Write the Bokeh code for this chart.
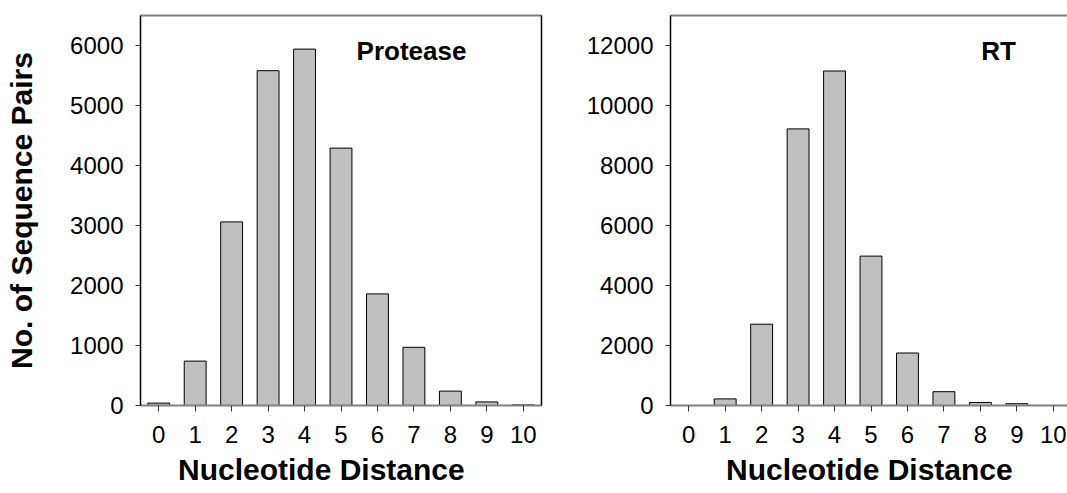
from bokeh.plotting import figure
from bokeh.layouts import row
from bokeh.models import LinearAxis, FixedTicker, Range1d, Label, Title
from bokeh.embed import file_html
from bokeh.resources import INLINE

# ---- data ----
distance = [0, 1, 2, 3, 4, 5, 6, 7, 8, 9, 10]
distance_labels = ["0", "1", "2", "3", "4", "5", "6", "7", "8", "9", "10"]
protease_pairs = [40, 740, 3060, 5580, 5940, 4290, 1860, 970, 240, 60, 10]
rt_pairs = [0, 220, 2710, 9220, 11150, 4980, 1750, 460, 100, 60, 0]
protease_yticks = [0, 1000, 2000, 3000, 4000, 5000, 6000]
rt_yticks = [0, 2000, 4000, 6000, 8000, 10000, 12000]
panel_titles = ["Protease", "RT"]
x_title = "Nucleotide Distance"
y_title = "No. of Sequence Pairs"

FONT = "Liberation Sans"
H = 493
FRAME_TOP = 15
FRAME_H = 390
FRAME_BOTTOM = FRAME_TOP + FRAME_H
PX_PER_UNIT = 401 / 11.0


def blank_axis(line_color, line_width):
    return LinearAxis(ticker=FixedTicker(ticks=[]), axis_line_color=line_color,
                      axis_line_width=line_width, major_tick_out=0, major_tick_in=0,
                      minor_tick_out=0, minor_tick_in=0,
                      major_label_standoff=0, major_label_text_font_size="0px")


def make_panel(vals, ymax, yticks, width, border_left, border_right,
               frame_left, frame_w, right_border_line, xtitle_offset, title_standoff):
    xs = -0.5
    xe = xs + frame_w / PX_PER_UNIT
    p = figure(width=width, height=H, output_backend="svg", toolbar_location=None,
               x_range=Range1d(xs, xe), y_range=Range1d(0, ymax),
               min_border_left=border_left, min_border_right=border_right,
               min_border_top=FRAME_TOP, min_border_bottom=H - FRAME_TOP - FRAME_H,
               background_fill_color="white", border_fill_color="white")
    p.outline_line_color = None
    p.xgrid.visible = False
    p.ygrid.visible = False

    p.vbar(x=distance, top=vals, width=0.6, bottom=0,
           fill_color="#c0c0c0", line_color="black", line_width=1)

    xa = p.xaxis[0]
    xa.ticker = FixedTicker(ticks=distance)
    xa.major_label_overrides = {d: s for d, s in zip(distance, distance_labels)}
    xa.axis_line_color = "#808080"
    xa.axis_line_width = 2
    xa.major_tick_in = 0
    xa.major_tick_out = 6
    xa.major_tick_line_color = "#333333"
    xa.minor_tick_out = 0
    xa.minor_tick_in = 0
    xa.major_label_standoff = 14
    xa.major_label_text_font = FONT
    xa.major_label_text_font_size = "24px"
    xa.major_label_text_color = "black"

    ya = p.yaxis[0]
    ya.ticker = FixedTicker(ticks=yticks)
    ya.axis_line_color = "black"
    ya.axis_line_width = 1.5
    ya.major_tick_in = 0
    ya.major_tick_out = 5
    ya.major_tick_line_color = "#333333"
    ya.minor_tick_out = 0
    ya.minor_tick_in = 0
    ya.major_label_standoff = 12
    ya.major_label_text_font = FONT
    ya.major_label_text_font_size = "24px"
    ya.major_label_text_color = "black"

    p.add_layout(blank_axis("#808080", 2), "above")
    if right_border_line:
        p.add_layout(blank_axis("black", 1.5), "right")

    p.add_layout(Title(text=x_title, align="left", offset=xtitle_offset,
                       standoff=title_standoff,
                       text_font=FONT, text_font_style="bold", text_font_size="30px",
                       text_color="black"), "below")

    def dx(px):
        return xs + (px - frame_left) / frame_w * (xe - xs)

    def dy(py):
        return ymax * (FRAME_BOTTOM - py) / FRAME_H

    return p, dx, dy


# left panel: page x 0..548, frame 140..541
p1, dx1, dy1 = make_panel(protease_pairs, 6500, protease_yticks, 548, 140, 7, 140, 401,
                          True, 37.5, 10)
# right panel: page x 548..1067, frame 670..1067
p2, dx2, dy2 = make_panel(rt_pairs, 13000, rt_yticks, 519, 122, 0, 670, 397,
                          False, 55.5, 10)

p1.yaxis[0].axis_label = y_title
p1.yaxis[0].axis_label_text_font = FONT
p1.yaxis[0].axis_label_text_font_style = "bold"
p1.yaxis[0].axis_label_text_font_size = "30px"
p1.yaxis[0].axis_label_text_color = "black"
p1.yaxis[0].axis_label_standoff = 29

p1.add_layout(Label(x=dx1(411), y=dy1(50), text=panel_titles[0], text_font=FONT,
                    text_font_style="bold", text_font_size="26px",
                    text_align="center", text_baseline="alphabetic", text_color="black"))
p2.add_layout(Label(x=dx2(998), y=dy2(50), text=panel_titles[1], text_font=FONT,
                    text_font_style="bold", text_font_size="26px",
                    text_align="center", text_baseline="alphabetic", text_color="black"))

layout = row(p1, p2)
open("out.html", "w").write(file_html(layout, INLINE))
